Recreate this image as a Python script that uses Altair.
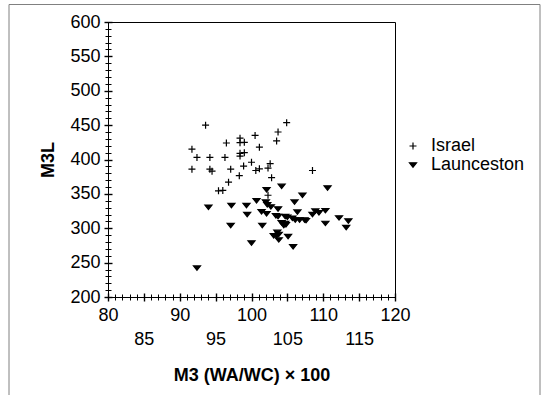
import altair as alt
import pandas as pd

series_names = ["Israel", "Launceston"]

israel_x = [93.6, 104.9, 103.7, 100.5, 98.4, 96.5, 98.4, 99.0, 103.5, 91.7,
            101.1, 92.4, 94.2, 96.3, 98.4, 99.0, 98.4, 100.0, 98.9, 102.6,
            91.7, 94.2, 94.5, 97.1, 100.6, 101.1, 102.3, 108.5, 98.3, 102.8,
            96.8, 95.4, 96.0, 102.3]
israel_y = [450, 453.5, 440, 435, 431, 424, 424.5, 425, 427, 415,
            418, 403, 403, 403, 409, 410, 405, 396, 390.5, 394,
            386, 386, 383, 386, 384, 386.5, 387.5, 384, 376.5, 373.5,
            367, 354.5, 355, 348]

laun_x = [92.4, 94.0, 97.2, 97.1, 99.3, 99.4, 100.0, 100.7, 101.5, 101.4,
          102.1, 102.0, 102.2, 102.1, 102.7, 103.7, 103.4, 103.7, 104.2, 103.6,
          103.8, 103.1, 103.5, 103.8, 104.7, 105.0, 104.2, 104.7, 104.8, 104.5,
          105.1, 105.8, 106.0, 106.4, 105.7, 106.1, 106.7, 107.4, 107.6, 107.1,
          108.5, 108.9, 109.4, 110.3, 110.6, 110.3, 112.2, 113.5, 113.2]
laun_y = [242, 330.5, 333, 304, 333, 320, 278.5, 340, 304, 324,
          356, 338, 334, 321, 331, 328, 318, 317, 361, 294,
          291, 289, 289, 283, 317, 316, 308, 307, 305, 304,
          288, 273, 338, 323.5, 314.5, 312, 312, 312, 311, 348,
          320, 325, 322.5, 325.5, 358.5, 307, 315, 310.5, 301]

x_major = [80, 85, 90, 95, 100, 105, 110, 115, 120]
x_minor = list(range(80, 121))
y_major = [200, 250, 300, 350, 400, 450, 500, 550, 600]
y_minor = list(range(200, 601, 10))

df = pd.DataFrame({
    "x": israel_x + laun_x,
    "y": israel_y + laun_y,
    "series": [series_names[0]] * len(israel_x) + [series_names[1]] * len(laun_x),
})

FONT = "Liberation Sans"
PLUS = "M-1,0H1M0,-1V1"
TRI = "M-1,-0.62H1L0,0.62Z"

xs = alt.Scale(domain=[80, 120], nice=False, zero=False)
ys = alt.Scale(domain=[200, 600], nice=False, zero=False)

leg = alt.Legend(
    title=None, orient="none", legendX=296, legendY=115,
    labelFont=FONT, labelFontSize=18, labelColor="black",
    symbolSize=49, symbolStrokeWidth=1.2,
    labelOffset=9, rowPadding=1, padding=0,
)

points = alt.Chart(df).mark_point(
    strokeWidth=1.2, opacity=1, fillOpacity=1, strokeOpacity=1, size=49
).encode(
    x=alt.X("x:Q", scale=xs, axis=alt.Axis(
        orient="bottom", values=x_major, ticks=False, domain=False, grid=False,
        labelFont=FONT, labelFontSize=18, labelColor="black",
        labelPadding={"condition": {"test": "datum.value % 10 != 0", "value": 33}, "value": 9},
        labelFlush=False, labelOverlap=False,
        title="M3 (WA/WC) × 100", titleFont=FONT, titleFontSize=18,
        titleFontWeight="bold", titleColor="black", titlePadding=18)),
    y=alt.Y("y:Q", scale=ys, axis=alt.Axis(
        orient="left", values=y_major, ticks=False, domain=False, grid=False,
        labelFont=FONT, labelFontSize=18, labelColor="black", labelPadding=8,
        labelFlush=False, labelOverlap=False,
        title="M3L", titleFont=FONT, titleFontSize=18, titleFontWeight="bold",
        titleColor="black", titlePadding=12)),
    shape=alt.Shape("series:N", scale=alt.Scale(domain=series_names, range=[PLUS, TRI]), legend=leg),
    fill=alt.Fill("series:N", scale=alt.Scale(domain=series_names, range=["transparent", "black"]), legend=leg),
    stroke=alt.Stroke("series:N", scale=alt.Scale(domain=series_names, range=["black", "black"]), legend=leg),
)

minor_ticks = alt.Chart(df).mark_point(opacity=0).encode(
    x=alt.X("x:Q", scale=xs, axis=alt.Axis(
        orient="bottom", values=x_minor, offset=-3, tickSize=6, ticks=True,
        labels=False, domain=False, grid=False, title="", tickColor="black", tickWidth=1)),
    y=alt.Y("y:Q", scale=ys, axis=alt.Axis(
        orient="left", values=y_minor, offset=-3, tickSize=6, ticks=True,
        labels=False, domain=False, grid=False, title="", tickColor="black", tickWidth=1)),
)

major_ticks = alt.Chart(df).mark_point(opacity=0).encode(
    x=alt.X("x:Q", scale=xs, axis=alt.Axis(
        orient="bottom", values=x_major, offset=-4, tickSize=8, ticks=True,
        labels=False, domain=False, grid=False, title="", tickColor="black", tickWidth=1.4)),
    y=alt.Y("y:Q", scale=ys, axis=alt.Axis(
        orient="left", values=y_major, offset=-4, tickSize=8, ticks=True,
        labels=False, domain=False, grid=False, title="", tickColor="black", tickWidth=1.4)),
)

frame = alt.Chart(alt.Data(values=[{"a": 1}])).mark_rect(
    filled=False, stroke="#808080", strokeWidth=1
).encode(
    x=alt.value(-99), x2=alt.value(432), y=alt.value(-17.5), y2=alt.value(420)
)

chart = alt.layer(frame, points, minor_ticks, major_ticks).resolve_axis(
    x="independent", y="independent"
).properties(
    width=287, height=275,
    autosize=alt.AutoSizeParams(type="none"),
    padding={"left": 108, "top": 22, "right": 148, "bottom": 98},
    background="white",
).configure_view(stroke="black", strokeWidth=1)

chart.save("out.html", embed_options={"renderer": "svg", "actions": False})
